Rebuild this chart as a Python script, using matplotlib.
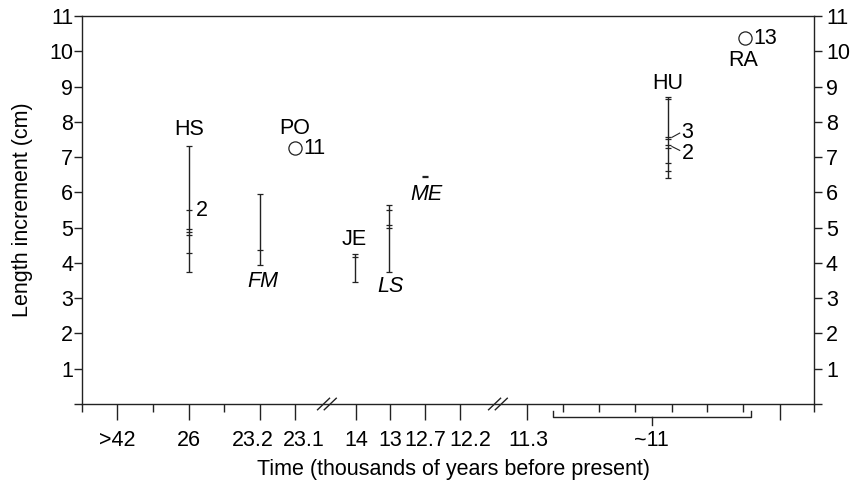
import matplotlib
matplotlib.use('Agg')
import matplotlib.pyplot as plt
from matplotlib.transforms import blended_transform_factory, ScaledTranslation

plt.rcParams['font.family'] = ['Liberation Sans', 'DejaVu Sans']
plt.rcParams['font.size'] = 15.5

LINE = '#222222'

# time bins along the broken axis (axis units)
time_pos = [1.00, 3.03, 5.04, 6.05, 7.77, 8.74, 9.74, 10.73, 12.61]
time_labels = ['>42', '26', '23.2', '23.1', '14', '13', '12.7', '12.2', '11.3']
minor_pos = [0, 2.01, 4.03, 13.65, 14.66, 15.69, 16.72, 17.73, 18.75, 20.75]
extra_long_tick = 19.79
approx_pos = 16.16          # "~11" group
bracket_span = (13.36, 18.97)
break_pos = [6.95, 11.80]

# sites with a range of measured increments
range_sites = ['HS', 'FM', 'JE', 'LS', 'ME', 'HU']
range_x = [3.03, 5.04, 7.75, 8.72, 9.72, 16.62]
range_vals = [
    [3.75, 4.29, 4.80, 4.88, 4.96, 5.49, 7.32],
    [3.94, 4.37, 5.94],
    [3.47, 4.18, 4.24],
    [3.75, 5.00, 5.07, 5.49, 5.64],
    [6.44, 6.47],
    [6.42, 6.61, 6.82, 7.27, 7.33, 7.52, 7.58, 8.64, 8.69],
]

# sites given as a single mean value (n shown beside the circle)
mean_sites = ['PO', 'RA']
mean_x = [6.05, 18.80]
mean_vals = [7.25, 10.37]
mean_n = ['11', '13']

# site label placement: (x, y, italic)
site_text = {
    'HS': (3.03, 7.77, False),
    'FM': (5.12, 3.47, True),
    'JE': (7.73, 4.65, False),
    'LS': (8.75, 3.33, True),
    'ME': (9.77, 5.93, True),
    'HU': (16.62, 9.09, False),
    'PO': (6.04, 7.82, False),
    'RA': (18.75, 9.75, False),
}

fig = plt.figure(figsize=(8.5, 4.87), dpi=100)
ax = fig.add_axes([82 / 850, 83 / 487, 731.7 / 850, 388 / 487])

for x, vals in zip(range_x, range_vals):
    ax.vlines(x, min(vals), max(vals), color=LINE, lw=1.0)
    ax.plot([x] * len(vals), vals, ls='none', marker='_', ms=4.5, mew=0.9, color=LINE)

for x, v, n in zip(mean_x, mean_vals, mean_n):
    ax.plot(x, v, marker='o', ms=9.5, mfc='white', mec=LINE, mew=0.9)
    ax.text(x + 0.24, v, n, ha='left', va='center')

for name, (x, y, it) in site_text.items():
    ax.text(x, y, name, ha='center', va='center', style='italic' if it else 'normal')

# counts of coincident values
ax.text(3.22, 5.49, '2', ha='left', va='center')
ax.plot([16.73, 16.95], [7.56, 7.68], color=LINE, lw=0.8)
ax.text(17.0, 7.69, '3', ha='left', va='center')
ax.plot([16.73, 16.95], [7.30, 7.19], color=LINE, lw=0.8)
ax.text(17.0, 7.09, '2', ha='left', va='center')

ax.set_xlim(0, 20.75)
ax.set_ylim(0, 11)

for s in ax.spines.values():
    s.set_color(LINE)
    s.set_linewidth(1.0)

# x axis ticks
major = time_pos + [approx_pos, extra_long_tick]
ax.set_xticks(major)
ax.set_xticklabels(time_labels + ['~11', ''])
ax.set_xticks(minor_pos, minor=True)
ax.tick_params(axis='x', which='major', direction='out', length=11.5, width=1.0,
               color=LINE, pad=7.5)
ax.tick_params(axis='x', which='minor', direction='out', length=5.8, width=1.0,
               color=LINE)
xticks = ax.xaxis.get_major_ticks()
xticks[len(time_pos)].tick1line.set_visible(False)
# nudge crowded labels sideways (points)
for i, dx in ((2, -5.0), (3, 6.0), (7, 7.2), (8, 1.5)):
    lab = xticks[i].label1
    lab.set_transform(lab.get_transform() + ScaledTranslation(dx / 72, 0, fig.dpi_scale_trans))

# y axis on both sides
yt = list(range(0, 12))
ylab = [''] + [str(v) for v in yt[1:]]
ax.set_yticks(yt)
ax.set_yticklabels(ylab)
ax.tick_params(axis='y', direction='out', length=5.8, width=1.0, color=LINE, pad=0.5)
ax2 = ax.twinx()
ax2.set_ylim(0, 11)
ax2.set_yticks(yt)
ax2.set_yticklabels(ylab)
ax2.tick_params(axis='y', direction='out', length=5.8, width=1.0, color=LINE, pad=3)
for s in ax2.spines.values():
    s.set_visible(False)

# bracket grouping the ~11 ka samples
tr = blended_transform_factory(ax.transData, ax.transAxes)
b0, b1 = bracket_span
ax.plot([b0, b0, b1, b1], [-0.0173, -0.0327, -0.0327, -0.0173], transform=tr,
        color=LINE, lw=1.0, clip_on=False)
ax.plot([approx_pos, approx_pos], [-0.0327, -0.054], transform=tr,
        color=LINE, lw=1.0, clip_on=False)

# axis break marks
for bx in break_pos:
    for off in (-0.1, 0.09):
        ax.plot([bx + off - 0.17, bx + off + 0.17], [-0.0148, 0.0148], transform=tr,
                color=LINE, lw=1.0, clip_on=False)

ax.set_xlabel('Time (thousands of years before present)')
ax.xaxis.set_label_coords(0.508, -0.142)
ax.set_ylabel('Length increment (cm)')
ax.yaxis.set_label_coords(-0.067, 0.5)

fig.savefig('out.png', dpi=100)
